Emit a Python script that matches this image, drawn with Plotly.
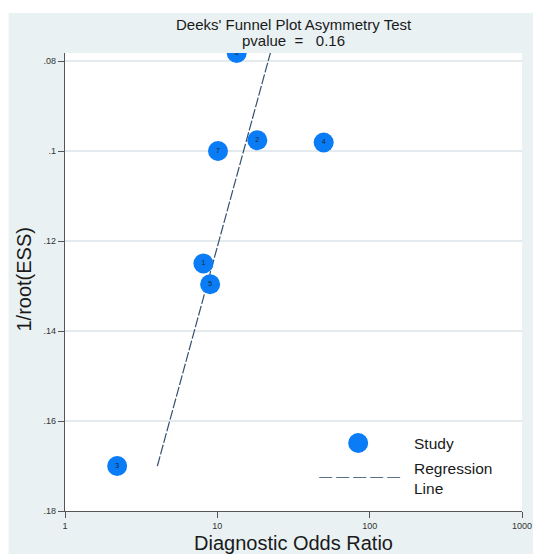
import plotly.graph_objects as go

# Data
study_ids = ["1", "2", "3", "4", "5", "6", "7"]
dor = [8.1, 18.3, 2.2, 49.9, 8.97, 13.4, 10.1]
inv_root_ess = [0.125, 0.0976, 0.170, 0.0981, 0.1296, 0.0782, 0.100]

reg_dor = [4.04, 22.3]
reg_inv_root_ess = [0.170, 0.0782]

y_tickvals = [0.08, 0.10, 0.12, 0.14, 0.16, 0.18]
y_ticktext = [".08", ".1", ".12", ".14", ".16", ".18"]
x_tickvals = [1, 10, 100, 1000]
x_ticktext = ["1", "10", "100", "1000"]

BLUE = "#0a7cf6"
BG = "#e9f1f3"
GRID = "#e3ebee"
AXIS = "#555555"
FONT = "Arial, Liberation Sans, sans-serif"

fig = go.Figure()

fig.add_trace(go.Scatter(
    x=reg_dor, y=reg_inv_root_ess, mode="lines",
    line=dict(color="#34506e", width=1.2, dash="10px,2px"),
    showlegend=False, hoverinfo="skip"))

fig.add_trace(go.Scatter(
    x=dor, y=inv_root_ess, mode="markers+text",
    text=study_ids, textposition="middle center",
    textfont=dict(size=7, color="#1b2633", family=FONT),
    marker=dict(size=20, color=BLUE, line=dict(width=0)),
    showlegend=False))

W, H = 533, 554
L, R, T, B = 64.5, 11, 53, 43
pw, ph = W - L - R, H - T - B


def px(xr):
    return (xr - L) / pw


def py(yr):
    return (H - B - yr) / ph


shapes = [
    dict(type="rect", xref="paper", yref="paper", x0=px(8), x1=px(540),
         y0=py(560), y1=py(13), fillcolor=BG, line=dict(width=0), layer="below"),
    dict(type="rect", xref="paper", yref="paper", x0=0, x1=1, y0=0, y1=1,
         fillcolor="white", line=dict(width=0), layer="below"),
    # legend symbols
    dict(type="circle", xref="paper", yref="paper", xsizemode="pixel", ysizemode="pixel",
         xanchor=px(358), yanchor=py(443), x0=-10, x1=10, y0=-10, y1=10,
         fillcolor=BLUE, line=dict(width=0)),
    dict(type="line", xref="paper", yref="paper", x0=px(319), x1=px(400),
         y0=py(477.5), y1=py(477.5), line=dict(color="#5a7088", width=1.2, dash="13px,4px")),
]

annotations = [
    dict(text="Deeks' Funnel Plot Asymmetry Test", xref="paper", yref="paper",
         x=0.5, y=py(24.5), xanchor="center", yanchor="middle", showarrow=False,
         font=dict(size=15, color="#1a1a1a", family=FONT)),
    dict(text="pvalue  =\u00a0\u00a0 0.16", xref="paper", yref="paper",
         x=0.5, y=py(41), xanchor="center", yanchor="middle", showarrow=False,
         font=dict(size=15, color="#1a1a1a", family=FONT)),
    dict(text="Diagnostic Odds Ratio", xref="paper", yref="paper",
         x=0.5, y=py(543), xanchor="center", yanchor="middle", showarrow=False,
         font=dict(size=20, color="#1a1a1a", family=FONT)),
    dict(text="1/root(ESS)", xref="paper", yref="paper", textangle=-90,
         x=px(23), y=py(280), xanchor="center", yanchor="middle", showarrow=False,
         font=dict(size=20, color="#1a1a1a", family=FONT)),
    dict(text="Study", xref="paper", yref="paper",
         x=px(412), y=py(443), xanchor="left", yanchor="middle", showarrow=False,
         font=dict(size=15.5, color="#1a1a1a", family=FONT)),
    dict(text="Regression<br>Line", xref="paper", yref="paper", align="left",
         x=px(412), y=py(478.5), xanchor="left", yanchor="middle", showarrow=False,
         font=dict(size=15.5, color="#1a1a1a", family=FONT)),
]

fig.update_layout(
    width=W, height=H, autosize=False,
    margin=dict(l=L, r=R, t=T, b=B, pad=0, autoexpand=False),
    paper_bgcolor="white", plot_bgcolor="white",
    shapes=shapes, annotations=annotations,
    font=dict(family=FONT),
    xaxis=dict(type="log", range=[0, 3], tickvals=x_tickvals, ticktext=x_ticktext,
               automargin=False,
               showgrid=False, zeroline=False, showline=True, linecolor=AXIS, linewidth=1.3,
               ticks="outside", ticklen=6, tickcolor=AXIS, tickwidth=1.2,
               tickfont=dict(size=9, color="#333333", family=FONT)),
    yaxis=dict(range=[0.18, 0.18 - 0.1 * ph / 450], tickvals=y_tickvals, ticktext=y_ticktext,
               automargin=False,
               showgrid=True, gridcolor=GRID, gridwidth=1.5, zeroline=False,
               showline=True, linecolor=AXIS, linewidth=1.3,
               ticks="outside", ticklen=6, tickcolor=AXIS, tickwidth=1.2,
               tickfont=dict(size=9, color="#333333", family=FONT)),
    showlegend=False,
)

fig.write_html("out.html",
               config={"responsive": False, "displayModeBar": False},
               post_script="document.body.style.margin='0';document.body.style.overflow='hidden';")
